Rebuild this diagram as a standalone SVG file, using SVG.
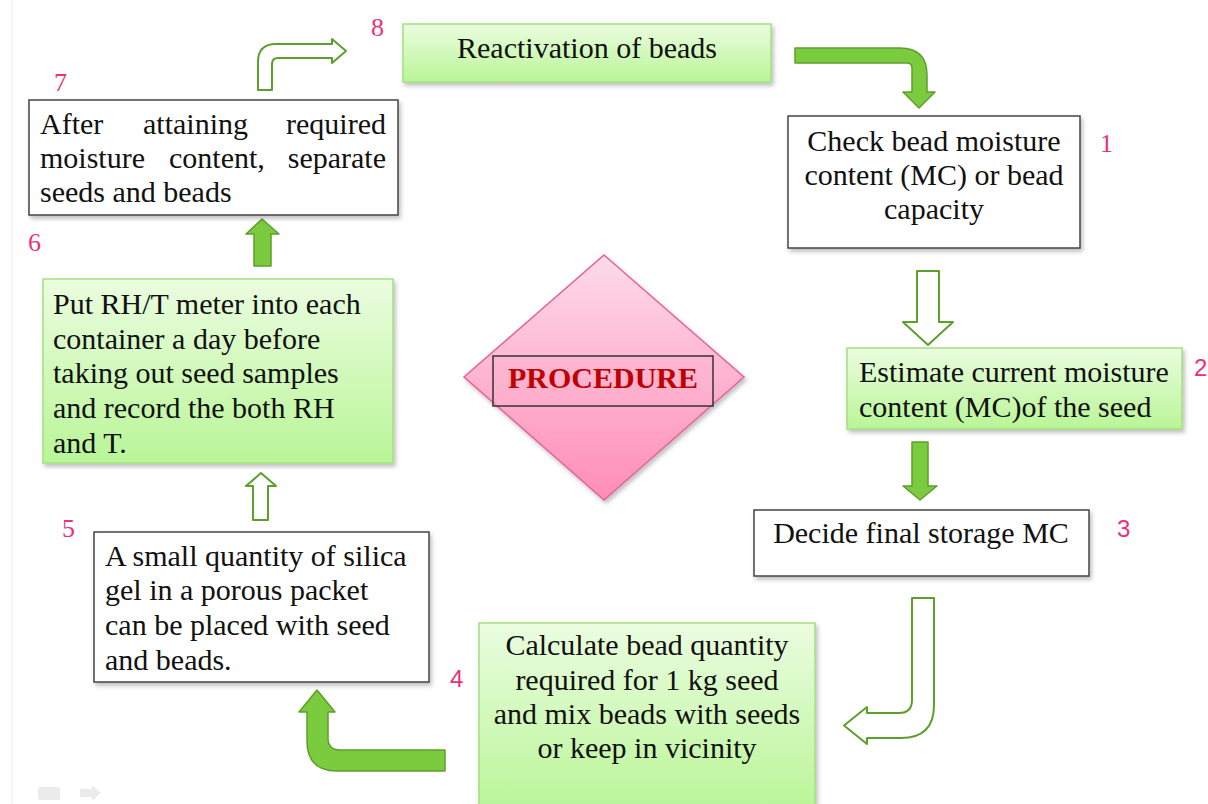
<svg xmlns="http://www.w3.org/2000/svg" width="1208" height="804" viewBox="0 0 1208 804">
<defs>
<linearGradient id="gGreen" x1="0" y1="0" x2="0" y2="1">
<stop offset="0" stop-color="#ebfde0"/>
<stop offset="1" stop-color="#b9f597"/>
</linearGradient>
<linearGradient id="gPink" x1="0" y1="0" x2="0" y2="1">
<stop offset="0" stop-color="#fddbe8"/>
<stop offset="1" stop-color="#ff8db7"/>
</linearGradient>
<filter id="sh" x="-10%" y="-10%" width="130%" height="140%">
<feDropShadow dx="2" dy="3" stdDeviation="2" flood-color="#000" flood-opacity="0.25"/>
</filter>
<style>
.t{font-family:"Liberation Serif","Times New Roman",serif;font-size:30px;fill:#111;}
.c{text-anchor:middle;}
.green{fill:url(#gGreen);stroke:#a3df7e;stroke-width:1.5;}
.white{fill:#fff;stroke:#444;stroke-width:1.5;}
.solid{fill:#7acb3e;stroke:#5e9f2c;stroke-width:1.5;stroke-linejoin:round;}
.hollow{fill:#fff;stroke:#5e9f2c;stroke-width:2;stroke-linejoin:round;}
.num{font-family:"Liberation Serif","Times New Roman",serif;font-size:26px;fill:#ec2f7e;}
.nums{font-family:"Liberation Sans",Arial,sans-serif;font-size:24px;fill:#ec2f7e;}
</style>
</defs>
<rect x="0" y="0" width="1208" height="804" fill="#fff"/>
<line x1="12" y1="0" x2="12" y2="804" stroke="#f0f0f0" stroke-width="1"/>

<g id="connectors">
<path class="hollow" d="M258,90 L258,62 Q258,44 276,44 L332,44 L332,39 L346,51 L332,63 L332,58 L278,58 Q272,58 272,64 L272,90 Z"/>
<path class="solid" d="M795,48 L900,48 Q927,48 927,75 L927,92 L935,92 L919,108 L903,92 L912,92 L912,68 Q912,63 907,63 L795,63 Z"/>
<path class="hollow" d="M917,271 L939,271 L939,322 L953,322 L928,345 L903,322 L917,322 Z"/>
<path class="solid" d="M912,442 L928,442 L928,486 L937,486 L920,500 L903,486 L912,486 Z"/>
<path class="hollow" d="M912,598 L934,598 L934,705 Q934,738 901,738 L867,738 L867,744 L844,725.5 L867,707 L867,713 L899,713 Q912,713 912,700 Z"/>
<path class="solid" d="M445,750 L445,771 L337,771 Q307,771 307,741 L307,712 L299,712 L317,690 L335,712 L328,712 L328,738 Q328,750 340,750 Z"/>
<path class="hollow" d="M253,520 L268,520 L268,486 L276,486 L261,473 L246,486 L253,486 Z"/>
<path class="solid" d="M254,266 L271,266 L271,234 L279,234 L262,219 L246,234 L254,234 Z"/>
</g>

<g id="node8">
<rect class="green" x="403" y="24" width="368" height="58" filter="url(#sh)"/>
<text class="t c" x="587" y="58">Reactivation of beads</text>
<text class="num" x="371" y="36">8</text>
</g>

<g id="node1">
<rect class="white" x="788" y="116" width="292" height="132" filter="url(#sh)"/>
<text class="t c" x="934" y="151">Check bead moisture</text>
<text class="t c" x="934" y="185">content (MC) or bead</text>
<text class="t c" x="934" y="219">capacity</text>
<text class="num" x="1100" y="152">1</text>
</g>

<g id="node2">
<rect class="green" x="847" y="348" width="335" height="81" filter="url(#sh)"/>
<text class="t" x="859" y="382">Estimate current moisture</text>
<text class="t" x="859" y="417">content (MC)of the seed</text>
<text class="nums" x="1194" y="376">2</text>
</g>

<g id="node3">
<rect class="white" x="754" y="510" width="335" height="66" filter="url(#sh)"/>
<text class="t c" x="921" y="543">Decide final storage MC</text>
<text class="nums" x="1117" y="537">3</text>
</g>

<g id="node4">
<rect class="green" x="479" y="623" width="336" height="190" filter="url(#sh)"/>
<text class="t c" x="647" y="655">Calculate bead quantity</text>
<text class="t c" x="647" y="690">required for 1 kg seed</text>
<text class="t c" x="647" y="724">and mix beads with seeds</text>
<text class="t c" x="647" y="758">or keep in vicinity</text>
<text class="nums" x="450" y="687">4</text>
</g>

<g id="node5">
<rect class="white" x="94" y="532" width="335" height="150" filter="url(#sh)"/>
<text class="t" x="105" y="566">A small quantity of silica</text>
<text class="t" x="105" y="600">gel in a porous packet</text>
<text class="t" x="105" y="635">can be placed with seed</text>
<text class="t" x="105" y="670">and beads.</text>
<text class="num" x="62" y="537">5</text>
</g>

<g id="node6">
<rect class="green" x="43" y="279" width="350" height="184" filter="url(#sh)"/>
<text class="t" x="53" y="314">Put RH/T meter into each</text>
<text class="t" x="53" y="349">container a day before</text>
<text class="t" x="53" y="383">taking out seed samples</text>
<text class="t" x="53" y="418">and record the both RH</text>
<text class="t" x="53" y="453">and T.</text>
<text class="num" x="28" y="251">6</text>
</g>

<g id="node7">
<rect class="white" x="29" y="100" width="369" height="115" filter="url(#sh)"/>
<text class="t" x="40" y="134">After</text>
<text class="t" x="143" y="134">attaining</text>
<text class="t" x="386" y="134" text-anchor="end">required</text>
<text class="t" x="40" y="168">moisture</text>
<text class="t" x="169" y="168">content,</text>
<text class="t" x="386" y="168" text-anchor="end">separate</text>
<text class="t" x="40" y="202">seeds and beads</text>
<text class="num" x="54" y="91">7</text>
</g>

<g id="procedure">
<polygon points="604,255 744,377 604,500 464,377" fill="url(#gPink)" stroke="#e8609a" stroke-width="1.5" filter="url(#sh)"/>
<rect x="493" y="356" width="220" height="50" fill="#ffb3cd" fill-opacity="0.35" stroke="#333" stroke-width="1.5"/>
<text x="603" y="388" text-anchor="middle" font-family="Liberation Serif, Times New Roman, serif" font-size="30" font-weight="bold" fill="#c00000">PROCEDURE</text>
</g>

<g id="slide-controls" opacity="0.12">
<rect x="38" y="787" width="22" height="13" rx="2" fill="#666"/>
<path d="M80,789 L92,789 L92,785 L101,793 L92,801 L92,797 L80,797 Z" fill="#666"/>
</g>
</svg>
